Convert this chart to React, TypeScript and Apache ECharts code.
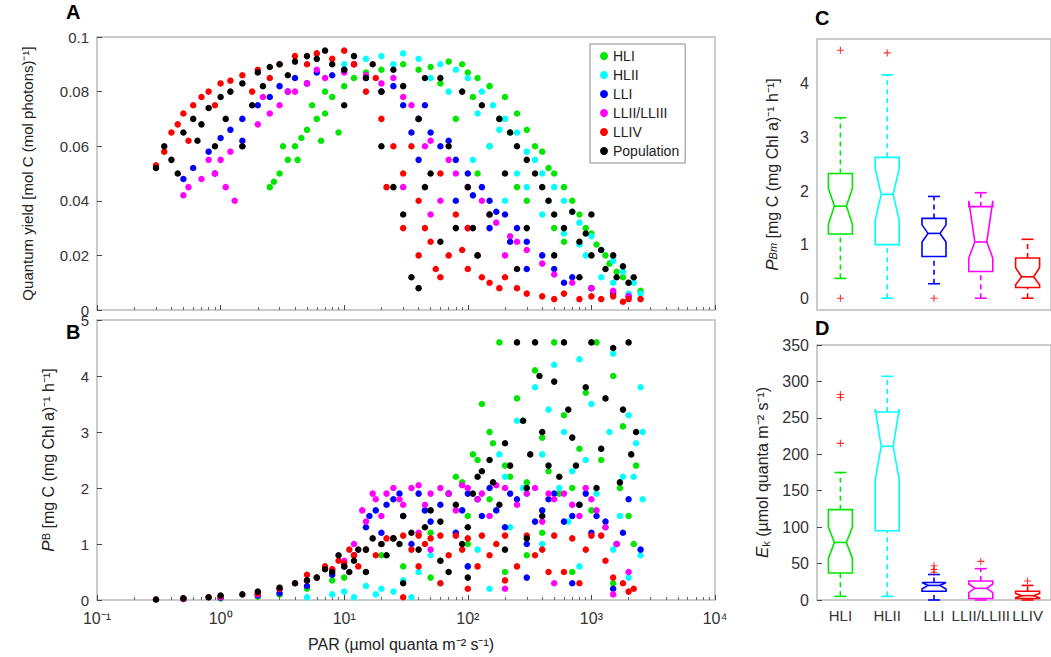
import { useEffect, useRef } from "react";
import * as echarts from "echarts";

// panel A: quantum yield vs PAR
const hliA = [[2.5,0.045],[3,0.05],[3.5,0.055],[4,0.06],[4.5,0.063],[5,0.066],[6,0.07],[7,0.072],[8,0.078],[10,0.082],[12,0.085],[15,0.087],[20,0.088],[30,0.09],[50,0.089],[70,0.091],[90,0.09],[100,0.087],[120,0.085],[150,0.082],[200,0.078],[250,0.072],[300,0.066],[400,0.058],[500,0.05],[600,0.045],[800,0.035],[1000,0.028],[1300,0.02],[1600,0.014],[2000,0.01],[2500,0.007],[150,0.06],[300,0.04],[500,0.03],[80,0.07],[60,0.083],[3.2,0.06],[5.5,0.075],[7,0.08],[2.7,0.047],[4.2,0.055],[6.5,0.062],[9,0.065],[40,0.088],[110,0.078],[180,0.07],[220,0.065],[350,0.06],[450,0.052],[700,0.04],[900,0.03],[1100,0.024],[1400,0.017],[250,0.045],[600,0.025],[120,0.05],[1800,0.012]];
const hliiA = [[10,0.09],[15,0.092],[20,0.093],[30,0.094],[40,0.092],[60,0.09],[80,0.088],[100,0.085],[130,0.08],[160,0.075],[200,0.07],[250,0.065],[300,0.058],[350,0.055],[400,0.05],[500,0.045],[600,0.04],[700,0.036],[800,0.032],[1000,0.027],[1200,0.022],[1500,0.018],[1800,0.014],[2200,0.01],[2500,0.006],[150,0.06],[250,0.05],[400,0.035],[600,0.028],[900,0.02],[1200,0.012],[2000,0.006],[25,0.09],[50,0.085],[70,0.08],[120,0.072],[180,0.066],[300,0.045],[450,0.04],[800,0.024],[1500,0.01],[2500,0.004],[110,0.055],[200,0.04]];
const lliA = [[0.5,0.048],[0.6,0.052],[0.8,0.058],[1,0.063],[1.2,0.066],[1.5,0.07],[2,0.075],[2.5,0.078],[3,0.082],[4,0.085],[6,0.087],[10,0.088],[15,0.085],[20,0.08],[30,0.075],[40,0.07],[50,0.065],[60,0.06],[80,0.055],[100,0.05],[130,0.045],[150,0.04],[200,0.035],[250,0.03],[300,0.025],[400,0.02],[500,0.015],[700,0.012],[1000,0.008],[1500,0.006],[2000,0.005],[0.9,0.05],[1.5,0.062],[40,0.055],[80,0.04],[150,0.03],[300,0.015],[3.5,0.08],[5,0.083],[8,0.086],[25,0.082],[35,0.065],[70,0.062],[110,0.042],[170,0.036],[220,0.025],[600,0.01],[45,0.075],[12,0.09]];
const lliiA = [[0.5,0.042],[0.55,0.045],[0.7,0.048],[0.9,0.05],[1,0.055],[1.2,0.058],[1.5,0.06],[2,0.068],[2.5,0.072],[3,0.075],[4,0.08],[5,0.083],[7,0.085],[10,0.087],[15,0.086],[20,0.083],[30,0.078],[40,0.07],[50,0.062],[70,0.055],[100,0.045],[130,0.04],[170,0.032],[220,0.027],[300,0.022],[400,0.017],[500,0.013],[700,0.01],[1000,0.008],[1500,0.007],[2000,0.005],[60,0.04],[100,0.03],[200,0.02],[0.8,0.055],[1.3,0.04],[1.1,0.045],[2.2,0.078],[3.5,0.08],[6,0.088],[12,0.09],[25,0.085],[35,0.075],[45,0.06],[80,0.05],[150,0.035],[250,0.025],[30,0.045],[50,0.035]];
const llivA = [[0.3,0.053],[0.35,0.058],[0.4,0.065],[0.45,0.068],[0.5,0.072],[0.6,0.075],[0.7,0.078],[0.8,0.08],[1,0.083],[1.2,0.084],[1.5,0.086],[2,0.088],[3,0.09],[5,0.09],[8,0.092],[12,0.09],[18,0.085],[20,0.07],[25,0.06],[30,0.05],[30,0.03],[40,0.04],[50,0.025],[60,0.05],[70,0.02],[80,0.035],[100,0.015],[100,0.03],[120,0.02],[150,0.01],[200,0.012],[250,0.008],[300,0.006],[400,0.005],[500,0.004],[800,0.004],[1200,0.004],[1800,0.003],[2500,0.004],[60,0.012],[40,0.02],[0.55,0.062],[0.9,0.075],[1.8,0.08],[2.5,0.085],[4,0.093],[6,0.094],[10,0.095],[15,0.08],[22,0.045],[35,0.06],[45,0.03],[55,0.015],[90,0.022],[130,0.012],[180,0.008],[600,0.006],[1000,0.005],[1500,0.005],[2000,0.004]];
const popA = [[0.3,0.052],[0.35,0.06],[0.4,0.055],[0.5,0.065],[0.6,0.07],[0.7,0.068],[0.8,0.074],[1,0.078],[1.2,0.08],[1.5,0.083],[2,0.087],[2.5,0.089],[3,0.09],[4,0.091],[6,0.092],[8,0.09],[10,0.088],[15,0.085],[20,0.08],[20,0.06],[25,0.045],[30,0.035],[40,0.07],[50,0.05],[60,0.025],[70,0.06],[80,0.03],[100,0.045],[120,0.02],[150,0.035],[200,0.05],[250,0.06],[300,0.055],[400,0.045],[500,0.035],[600,0.03],[800,0.025],[1000,0.02],[1300,0.015],[1600,0.012],[2000,0.01],[300,0.03],[500,0.02],[800,0.012],[1000,0.035],[60,0.085],[35,0.012],[1.5,0.06],[0.9,0.06],[10,0.075],[0.45,0.05],[0.65,0.062],[1.1,0.07],[1.8,0.075],[2.2,0.082],[3.5,0.086],[5,0.093],[7,0.095],[12,0.093],[17,0.09],[25,0.088],[30,0.082],[45,0.085],[90,0.08],[130,0.075],[180,0.07],[220,0.065],[350,0.05],[450,0.04],[700,0.036],[900,0.028],[1200,0.022],[1500,0.02],[1800,0.016],[2200,0.012],[45,0.045],[110,0.03],[250,0.015],[40,0.008]];

// panel B: P^B vs PAR
const hliB = [[1,0.03],[2,0.06],[3,0.1],[5,0.2],[8,0.35],[10,0.4],[15,0.5],[20,0.8],[30,0.6],[50,1.2],[70,1.9],[80,2.2],[100,1.5],[120,2.5],[150,3.0],[180,4.6],[200,2.4],[250,3.6],[300,2.1],[350,4.1],[400,2.9],[500,4.6],[600,3.3],[700,2.0],[900,3.7],[1000,1.6],[1200,2.5],[1500,4.0],[1800,3.1],[2000,1.5],[2300,2.4],[300,0.8],[700,0.5],[1500,0.3],[150,1.8],[100,1.0],[50,0.4],[25,1.1],[90,2.1],[110,2.6],[130,3.5],[160,2.8],[220,2.2],[280,3.2],[450,2.3],[550,1.9],[800,2.7],[1100,4.6],[1300,1.3],[1700,2.0],[2200,1.0],[400,1.2],[200,0.5],[60,0.7]];
const hliiB = [[5,0.05],[8,0.1],[10,0.15],[15,0.25],[20,0.2],[30,0.35],[40,0.5],[50,0.8],[80,1.2],[100,0.6],[150,1.5],[200,2.2],[250,3.2],[300,1.9],[350,3.8],[400,2.6],[500,4.2],[600,3.0],[700,2.3],[800,4.3],[1000,3.5],[1200,2.7],[1500,4.4],[1800,2.2],[2000,3.3],[2300,2.8],[2500,3.8],[2600,1.8],[400,1.0],[800,0.6],[1500,0.9],[2000,0.4],[150,0.2],[60,0.3],[12,0.05],[18,0.1],[25,0.15],[35,0.05],[120,0.9],[180,2.6],[220,1.3],[280,2.0],[450,3.4],[550,2.0],[650,1.4],[900,2.5],[1100,1.9],[1400,3.0],[1700,1.5],[2200,2.2],[2600,3.0],[2500,0.8]];
const lliB = [[0.5,0.02],[1,0.04],[2,0.08],[3,0.12],[5,0.25],[8,0.45],[10,0.6],[12,0.8],[15,1.3],[18,1.6],[20,1.2],[25,1.8],[30,1.5],[35,1.0],[40,1.9],[50,1.4],[60,1.7],[80,1.2],[100,1.9],[130,1.5],[150,2.0],[200,1.3],[250,1.8],[300,1.0],[400,1.6],[500,1.9],[600,1.4],[800,1.7],[1000,1.2],[1300,1.4],[1600,1.0],[2000,1.8],[2500,0.9],[300,0.4],[700,0.3],[1500,0.2],[100,0.6],[16,1.5],[22,1.7],[28,1.9],[45,1.6],[70,1.9],[90,1.6],[120,1.8],[170,1.6],[220,1.9],[350,1.4],[450,1.8],[700,1.5],[900,1.9],[1100,1.5],[1800,1.2]];
const lliiB = [[0.5,0.02],[1,0.05],[2,0.1],[3,0.2],[5,0.35],[8,0.55],[10,0.7],[12,1.0],[15,1.4],[18,1.8],[20,1.5],[25,2.0],[30,1.7],[35,2.0],[40,1.2],[50,1.9],[60,2.0],[80,1.6],[100,2.0],[120,1.8],[150,1.5],[200,2.0],[250,1.7],[300,1.9],[400,1.4],[500,1.8],[600,1.9],[800,1.5],[1000,1.8],[1300,1.3],[1600,1.0],[2000,0.5],[500,0.3],[200,0.2],[1500,0.1],[50,0.9],[14,1.6],[17,1.9],[22,1.9],[28,1.8],[40,2.05],[45,1.7],[70,1.9],[90,2.05],[130,1.9],[170,2.05],[350,2.0],[450,1.9],[700,1.7],[900,2.0],[1100,1.6]];
const llivB = [[0.3,0.01],[0.5,0.03],[0.8,0.05],[1,0.07],[2,0.12],[3,0.2],[4,0.3],[6,0.4],[8,0.55],[10,0.65],[12,0.8],[15,0.9],[20,1.0],[25,1.1],[30,1.15],[40,1.15],[50,1.1],[60,1.15],[80,1.15],[100,1.1],[130,1.15],[150,0.8],[200,1.15],[250,0.6],[300,1.15],[400,0.9],[500,1.15],[600,0.5],[700,1.1],[800,0.3],[1000,1.15],[1300,0.7],[1500,0.4],[2000,0.15],[2200,0.2],[40,0.6],[60,0.3],[100,0.2],[200,0.35],[30,0.05],[5,0.45],[7,0.6],[9,0.7],[11,0.9],[13,0.6],[18,0.8],[22,1.1],[35,0.9],[45,1.0],[70,0.8],[90,0.9],[120,0.6],[170,1.0],[350,0.8],[450,0.5],[900,0.9],[1200,1.15],[1800,0.3]];
const popB = [[0.3,0.01],[0.5,0.03],[0.8,0.05],[1,0.08],[1.5,0.1],[2,0.15],[3,0.22],[4,0.3],[5,0.35],[6,0.4],[8,0.5],[10,0.6],[12,0.7],[15,0.9],[20,1.0],[25,1.1],[30,1.5],[35,1.2],[40,0.9],[50,1.6],[60,1.4],[70,0.5],[80,1.7],[100,1.3],[120,2.2],[150,2.5],[180,1.7],[200,2.8],[250,4.6],[280,3.2],[300,2.0],[350,4.6],[400,3.0],[450,2.4],[500,3.9],[600,4.6],[700,2.9],[800,1.7],[900,3.8],[1000,4.6],[1200,2.7],[1500,4.5],[1800,3.4],[2000,4.6],[2100,2.6],[60,0.7],[100,0.4],[400,1.5],[30,0.3],[15,0.5],[7,0.55],[9,0.8],[11,0.5],[13,0.9],[17,1.1],[22,0.8],[28,1.0],[45,1.3],[90,1.0],[110,1.9],[130,2.3],[160,2.1],[220,2.4],[320,2.6],[380,4.0],[550,2.2],[650,3.4],[750,2.4],[1100,2.0],[1300,3.6],[1700,2.1],[2300,3.0],[300,1.1],[200,0.9]];

const groups = ["HLI", "HLII", "LLI", "LLII/LLIII", "LLIV"];
const groupColors = ["#00e600", "#00ffff", "#0000ff", "#ff00ff", "#ff0000"];

// boxes: [pos, lo, q1, median, q3, hi, notchLo, notchHi]
const boxC = [[1,0.37,1.2,1.72,2.33,3.37,1.38,2.05],[2,0,1.0,1.94,2.63,4.17,1.45,2.42],[3,0.27,0.78,1.21,1.49,1.9,1.05,1.37],[4,0,0.5,1.05,1.71,1.97,0.75,1.82],[5,0,0.2,0.4,0.75,1.1,0.25,0.57]];
const outC = [[1,4.63],[1,0],[2,4.58],[3,0]];
const boxD = [[1,5,37,79,124,175,57,100],[2,5,95,211,258,307,165,262],[3,0,12,20,24,35,15,24],[4,0,2,16,26,43,10,22],[5,0,2,6,12,20,3,9]];
const outD = [[1,278],[1,282],[1,215],[3,38],[3,42],[3,47],[4,53],[5,26]];

const FONT = "Liberation Sans, Arial, sans-serif";
const sup: Record<string, string> = { "-": "⁻", "0": "⁰", "1": "¹", "2": "²", "3": "³", "4": "⁴" };
const plus = "path://M0.42,0H0.58V0.42H1V0.58H0.58V1H0.42V0.58H0V0.42H0.42Z";

const axisCommon = {
  axisLine: { show: false },
  axisTick: { inside: true, length: 5, lineStyle: { color: "#444" } },
  splitLine: { show: false },
  axisLabel: { color: "#333", fontSize: 16, fontFamily: FONT },
};

function boxSeries(data: number[][], xi: number, yi: number) {
  return {
    type: "custom",
    xAxisIndex: xi,
    yAxisIndex: yi,
    data: data.map((d) => d),
    renderItem: (params: any, api: any) => {
      const x = api.value(0);
      const c = groupColors[x - 1];
      const p = (v: number, dx = 0) => {
        const pt = api.coord([x, v]);
        return [pt[0] + dx, pt[1]];
      };
      const w = 12;
      const st = { stroke: c, lineWidth: 1.6, fill: "none" };
      const dash = { ...st, lineDash: [5, 4] };
      const [lo, q1, md, q3, hi, nl, nh] = [1, 2, 3, 4, 5, 6, 7].map((i) => api.value(i));
      const seg = (a: number[], b: number[], s: any) => ({ type: "line", shape: { x1: a[0], y1: a[1], x2: b[0], y2: b[1] }, style: s });
      const poly = [p(q1, -w), p(nl, -w), p(md, -w / 2), p(nh, -w), p(q3, -w), p(q3, w), p(nh, w), p(md, w / 2), p(nl, w), p(q1, w)];
      return {
        type: "group",
        children: [
          seg(p(lo), p(q1), dash),
          seg(p(q3), p(hi), dash),
          seg(p(lo, -w / 2), p(lo, w / 2), st),
          seg(p(hi, -w / 2), p(hi, w / 2), st),
          { type: "polygon", shape: { points: poly }, style: st },
          seg(p(md, -w / 2), p(md, w / 2), st),
        ],
      };
    },
  };
}

export default function App() {
  const ref = useRef<HTMLDivElement>(null);
  useEffect(() => {
    document.body.style.margin = "0";
    const chart = echarts.init(ref.current!, null, { renderer: "svg" });
    const dataA = [hliA, hliiA, lliA, lliiA, llivA, popA];
    const dataB = [hliB, hliiB, lliB, lliiB, llivB, popB];
    const names = [...groups, "Population"];
    const colors = [...groupColors, "#000000"];
    const logX = (show: boolean, gi: number) => ({
      type: "log",
      gridIndex: gi,
      min: 0.1,
      max: 10000,
      logBase: 10,
      ...axisCommon,
      minorTick: { show: true, splitNumber: 9, length: 3, lineStyle: { color: "#666" } },
      axisLabel: {
        ...axisCommon.axisLabel,
        show,
        margin: 10,
        formatter: (v: number) => "10" + String(Math.round(Math.log10(v))).split("").map((ch) => sup[ch]).join(""),
      },
    });
    const boxX = (gi: number, show: boolean) => ({
      type: "value",
      gridIndex: gi,
      min: 0.5,
      max: 5.5,
      ...axisCommon,
      axisTick: { show: false },
      axisLabel: {
        ...axisCommon.axisLabel,
        fontSize: 15,
        show,
        customValues: [1, 2, 3, 4, 5],
        formatter: (v: number) => groups[Math.round(v) - 1] ?? "",
      },
    });
    const scat = (d: number[][], i: number, gi: number) => ({
      type: "scatter",
      name: names[i],
      xAxisIndex: gi,
      yAxisIndex: gi,
      data: d,
      symbolSize: 6.5,
      itemStyle: { color: colors[i], opacity: 1 },
    });
    chart.setOption({
      animation: false,
      textStyle: { fontFamily: FONT },
      grid: [
        { left: 97, top: 37, width: 618, height: 273, show: true, borderColor: "#bbb", borderWidth: 1.5 },
        { left: 97, top: 320, width: 618, height: 280, show: true, borderColor: "#bbb", borderWidth: 1.5 },
        { left: 817, top: 39, width: 240, height: 271, show: true, borderColor: "#bbb", borderWidth: 1.5 },
        { left: 817, top: 345, width: 240, height: 255, show: true, borderColor: "#bbb", borderWidth: 1.5 },
      ],
      legend: {
        data: names,
        orient: "vertical",
        left: 590,
        top: 44,
        itemWidth: 8,
        itemHeight: 8,
        itemGap: 5,
        icon: "circle",
        padding: [5, 6, 5, 10],
        borderColor: "#888",
        borderWidth: 1,
        backgroundColor: "#fff",
        textStyle: { fontSize: 14, color: "#222", fontFamily: FONT },
      },
      xAxis: [logX(false, 0), logX(true, 1), boxX(2, false), boxX(3, true)],
      yAxis: [
        {
          type: "value", gridIndex: 0, min: 0, max: 0.1, interval: 0.02, ...axisCommon,
          axisLabel: { ...axisCommon.axisLabel, fontSize: 15 },
          name: "Quantum yield [mol C (mol photons)⁻¹]", nameLocation: "middle", nameGap: 62, nameRotate: 90,
          nameTextStyle: { fontSize: 15, color: "#222", fontFamily: FONT },
        },
        {
          type: "value", gridIndex: 1, min: 0, max: 5, interval: 1, ...axisCommon,
          axisLabel: { ...axisCommon.axisLabel, fontSize: 15 },
          name: "{i|P}{s|B} [mg C (mg Chl a)⁻¹ h⁻¹]", nameLocation: "middle", nameGap: 40, nameRotate: 90,
          nameTextStyle: {
            fontSize: 16, color: "#222", fontFamily: FONT,
            rich: { i: { fontSize: 17, fontStyle: "italic", fontFamily: FONT, color: "#222" }, s: { fontSize: 11, fontFamily: FONT, color: "#222", verticalAlign: "top" } },
          },
        },
        {
          type: "value", gridIndex: 2, min: -0.22, max: 4.84, ...axisCommon,
          axisTick: { show: false },
          axisLabel: { ...axisCommon.axisLabel, customValues: [0, 1, 2, 3, 4] },
          name: "{i|P}{s|B}{s|m} [mg C (mg Chl a)⁻¹ h⁻¹]", nameLocation: "middle", nameGap: 36, nameRotate: 90,
          nameTextStyle: {
            fontSize: 16, color: "#222", fontFamily: FONT,
            rich: { i: { fontSize: 17, fontStyle: "italic", fontFamily: FONT, color: "#222" }, s: { fontSize: 11, fontStyle: "italic", fontFamily: FONT, color: "#222" } },
          },
        },
        {
          type: "value", gridIndex: 3, min: 0, max: 350, interval: 50, ...axisCommon,
          name: "{i|E}{s|k} (µmol quanta m⁻² s⁻¹)", nameLocation: "middle", nameGap: 46, nameRotate: 90,
          nameTextStyle: {
            fontSize: 16, color: "#222", fontFamily: FONT,
            rich: { i: { fontSize: 17, fontStyle: "italic", fontFamily: FONT, color: "#222" }, s: { fontSize: 11, fontFamily: FONT, color: "#222", verticalAlign: "bottom" } },
          },
        },
      ],
      graphic: [
        { type: "text", left: 66, top: 2, style: { text: "A", font: "bold 20px " + FONT, fill: "#000" } },
        { type: "text", left: 66, top: 322, style: { text: "B", font: "bold 20px " + FONT, fill: "#000" } },
        { type: "text", left: 815, top: 8, style: { text: "C", font: "bold 20px " + FONT, fill: "#000" } },
        { type: "text", left: 815, top: 318, style: { text: "D", font: "bold 20px " + FONT, fill: "#000" } },
        { type: "text", left: 308, top: 636, style: { text: "PAR (µmol quanta m⁻² s⁻¹)", font: "16px " + FONT, fill: "#222" } },
      ],
      series: [
        ...dataA.map((d, i) => scat(d, i, 0)),
        ...dataB.map((d, i) => scat(d, i, 1)),
        boxSeries(boxC, 2, 2),
        boxSeries(boxD, 3, 3),
        { type: "scatter", xAxisIndex: 2, yAxisIndex: 2, data: outC, symbol: plus, symbolSize: 7, itemStyle: { color: "#ff0000" } },
        { type: "scatter", xAxisIndex: 3, yAxisIndex: 3, data: outD, symbol: plus, symbolSize: 7, itemStyle: { color: "#ff0000" } },
      ],
    });
    return () => chart.dispose();
  }, []);
  return <div ref={ref} style={{ width: 1051, height: 657 }} />;
}
